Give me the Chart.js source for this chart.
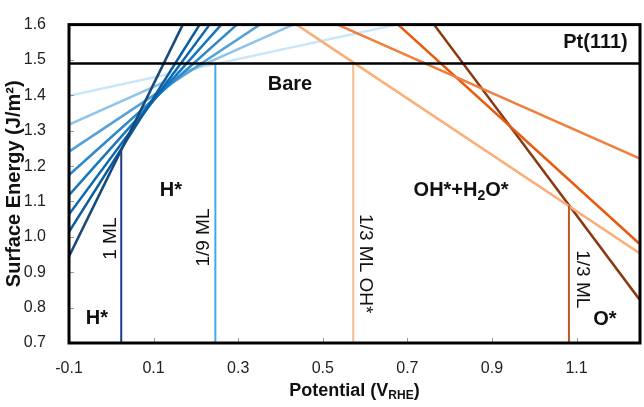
<!DOCTYPE html>
<html>
<head>
<meta charset="utf-8">
<script src="https://cdn.jsdelivr.net/npm/chart.js@4.4.1/dist/chart.umd.min.js"></script>
<style>
html, body { margin: 0; padding: 0; background: #fff; }
#wrap { width: 644px; height: 407px; }
</style>
</head>
<body>
<div id="wrap"><canvas id="chart"></canvas></div>
<script>
// axis ranges and tick labels
const xTicks = [-0.1, 0.1, 0.3, 0.5, 0.7, 0.9, 1.1];
const yTicks = [0.7, 0.8, 0.9, 1.0, 1.1, 1.2, 1.3, 1.4, 1.5, 1.6];
const xMin = -0.1, xMax = 1.25;
const yMin = 0.7, yMax = 1.6;

// bare Pt(111) surface energy (J/m2)
const bareEnergy = 1.49;

// H* coverage lines: energy at U = -0.1 V and potential where they reach 1.6
const hStartEnergy = [0.945, 1.014, 1.064, 1.118, 1.175, 1.241, 1.317, 1.399];
const hTopPotential = [0.169, 0.209, 0.2325, 0.260, 0.297, 0.351, 0.430, 0.675];
const hColors = ["#17497a", "#0b5b9f", "#0a68b3", "#1676c0", "#2f88cb", "#55a1d9", "#8ec4ea", "#c9e6f8"];

// OH* / O* lines: potential where they leave 1.6 and energy at the right edge
const oTopPotential = [0.438, 0.535, 0.678, 0.763];
const oEndEnergy = [0.953, 1.221, 0.979, 0.821];
const oColors = ["#fbad78", "#ef7f3e", "#e95a0e", "#8a3a12"];

// phase boundaries: potential and energy at the top of each line
const boundPotential = [0.0235, 0.246, 0.572, 1.082];
const boundTop = [1.245, 1.49, 1.49, 1.089];
const boundColors = ["#1f3c8c", "#3aaeea", "#fbb98c", "#c0581f"];

// text labels, placed in data coordinates
const labels = [
  { text: "Pt(111)", x: 1.221, y: 1.549, align: "right", bold: true },
  { text: "Bare", x: 0.4225, y: 1.431, bold: true },
  { text: "H*", x: 0.141, y: 1.132, bold: true },
  { text: "H*", x: -0.034, y: 0.769, bold: true },
  { text: "O*", x: 1.167, y: 0.767, bold: true },
  { text: "1 ML", x: -0.001, y: 0.995, rot: -90 },
  { text: "1/9 ML", x: 0.218, y: 0.998, rot: -90 },
  { text: "1/3 ML OH*", x: 0.601, y: 0.924, rot: 90 },
  { text: "1/3 ML", x: 1.113, y: 0.880, rot: 90 }
];

const FONT = "'Liberation Sans', Arial, sans-serif";

const datasets = [];
function addLine(pts, color, width) {
  datasets.push({
    data: pts,
    borderColor: color,
    borderWidth: width,
    showLine: true,
    pointRadius: 0,
    fill: false
  });
}

addLine([{ x: xMin, y: bareEnergy }, { x: xMax, y: bareEnergy }], "#000", 2.5);
for (let i = 0; i < boundPotential.length; i++) {
  addLine([{ x: boundPotential[i], y: yMin }, { x: boundPotential[i], y: boundTop[i] }], boundColors[i], 2);
}
for (let i = 0; i < oTopPotential.length; i++) {
  addLine([{ x: oTopPotential[i], y: yMax }, { x: xMax, y: oEndEnergy[i] }], oColors[i], 2.5);
}
for (let i = 0; i < hStartEnergy.length; i++) {
  addLine([{ x: xMin, y: hStartEnergy[i] }, { x: hTopPotential[i], y: yMax }], hColors[i], 2.5);
}

// draws frame, inside ticks, axis titles and region labels
const decor = {
  id: "decor",
  afterDatasetsDraw(chart) {
    const ctx = chart.ctx;
    const a = chart.chartArea;
    const xs = chart.scales.x, ys = chart.scales.y;
    ctx.save();

    // inside tick marks
    ctx.strokeStyle = "#999";
    ctx.lineWidth = 1;
    xTicks.forEach(v => {
      const px = Math.round(xs.getPixelForValue(v)) + 0.5;
      ctx.beginPath(); ctx.moveTo(px, a.bottom); ctx.lineTo(px, a.bottom - 5); ctx.stroke();
    });
    yTicks.forEach(v => {
      const py = Math.round(ys.getPixelForValue(v)) + 0.5;
      ctx.beginPath(); ctx.moveTo(a.left, py); ctx.lineTo(a.left + 5, py); ctx.stroke();
    });

    // frame
    ctx.strokeStyle = "#000";
    ctx.lineWidth = 3;
    ctx.strokeRect(a.left, a.top, a.right - a.left, a.bottom - a.top);

    // region labels
    ctx.fillStyle = "#111";
    ctx.textBaseline = "middle";
    labels.forEach(l => {
      const px = xs.getPixelForValue(l.x), py = ys.getPixelForValue(l.y);
      ctx.save();
      ctx.translate(px, py);
      if (l.rot) ctx.rotate(l.rot * Math.PI / 180);
      ctx.font = (l.bold ? "bold 20px " : "19px ") + FONT;
      ctx.textAlign = l.align || "center";
      ctx.fillText(l.text, 0, 0);
      ctx.restore();
    });

    // OH*+H2O* with subscript
    const parts = [["OH*+H", 20, 0], ["2", 14, 5], ["O*", 20, 0]];
    let total = 0;
    parts.forEach(p => { ctx.font = "bold " + p[1] + "px " + FONT; total += ctx.measureText(p[0]).width; });
    let cx = xs.getPixelForValue(0.827) - total / 2;
    const cy = ys.getPixelForValue(1.130);
    ctx.textAlign = "left";
    parts.forEach(p => {
      ctx.font = "bold " + p[1] + "px " + FONT;
      ctx.fillText(p[0], cx, cy + p[2]);
      cx += ctx.measureText(p[0]).width;
    });

    // x title with subscript
    const tparts = [["Potential (V", 18, 0], ["RHE", 12, 5], [")", 18, 0]];
    total = 0;
    tparts.forEach(p => { ctx.font = "bold " + p[1] + "px " + FONT; total += ctx.measureText(p[0]).width; });
    cx = (a.left + a.right) / 2 - total / 2;
    tparts.forEach(p => {
      ctx.font = "bold " + p[1] + "px " + FONT;
      ctx.fillText(p[0], cx, 391 + p[2]);
      cx += ctx.measureText(p[0]).width;
    });

    // y title
    ctx.save();
    ctx.translate(14, (a.top + a.bottom) / 2);
    ctx.rotate(-Math.PI / 2);
    ctx.textAlign = "center";
    ctx.font = "bold 20px " + FONT;
    ctx.fillText("Surface Energy (J/m\u00B2)", 0, 0);
    ctx.restore();

    ctx.restore();
  }
};

new Chart(document.getElementById("chart"), {
  type: "scatter",
  data: { datasets: datasets },
  options: {
    responsive: true,
    maintainAspectRatio: false,
    animation: false,
    layout: { padding: { left: 0, right: 4, top: 8, bottom: 0 } },
    plugins: { legend: { display: false }, tooltip: { enabled: false } },
    scales: {
      x: {
        type: "linear",
        min: xMin,
        max: xMax,
        grid: { display: false },
        border: { display: false },
        afterBuildTicks: s => { s.ticks = xTicks.map(v => ({ value: v })); },
        afterFit: s => { s.height = 64; },
        ticks: {
          padding: 8,
          color: "#222",
          font: { family: FONT, size: 16 },
          callback: v => v.toFixed(1)
        }
      },
      y: {
        min: yMin,
        max: yMax,
        grid: { display: false },
        border: { display: false },
        afterBuildTicks: s => { s.ticks = yTicks.map(v => ({ value: v })); },
        afterFit: s => { s.width = 69; },
        ticks: {
          padding: 15,
          color: "#222",
          font: { family: FONT, size: 16 },
          callback: v => v.toFixed(1)
        }
      }
    }
  },
  plugins: [decor]
});
</script>
</body>
</html>
